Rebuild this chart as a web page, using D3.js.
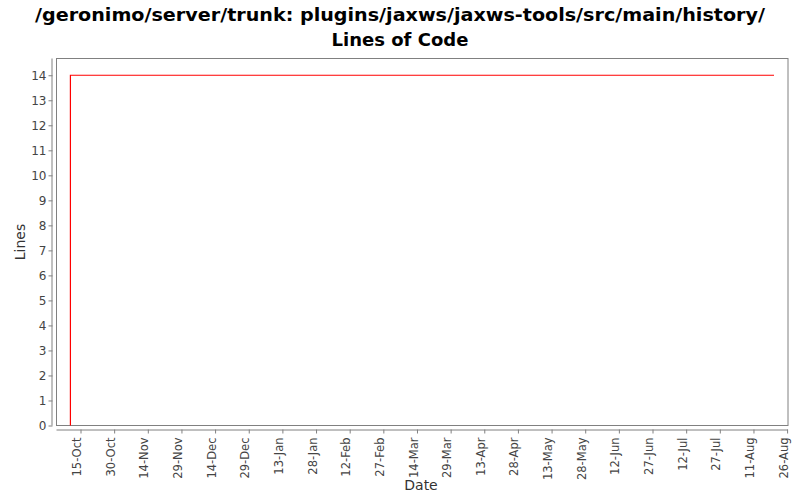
<!DOCTYPE html>
<html><head><meta charset="utf-8">
<script src="https://cdn.jsdelivr.net/npm/d3@7"></script>
<style>body{margin:0;background:#fff}svg{display:block}text{font-family:"DejaVu Sans",Tahoma,sans-serif}</style>
</head><body><svg id="c" width="800" height="500"></svg>
<script>
const titleLines = ["/geronimo/server/trunk: plugins/jaxws/jaxws-tools/src/main/history/", "Lines of Code"];
const dates = ["2006-10-10T12", "2006-10-10T12", "2007-08-20T04"];
const values = [0, 14, 14];
const tickDates = ["2006-10-15","2006-10-30","2006-11-14","2006-11-29","2006-12-14","2006-12-29","2007-01-13","2007-01-28","2007-02-12","2007-02-27","2007-03-14","2007-03-29","2007-04-13","2007-04-28","2007-05-13","2007-05-28","2007-06-12","2007-06-27","2007-07-12","2007-07-27","2007-08-11","2007-08-26"];
const yTicks = [0,1,2,3,4,5,6,7,8,9,10,11,12,13,14];

const parse = s => d3.isoParse(s.length > 10 ? s + ":00:00Z" : s + "T00:00:00Z");
const svg = d3.select("#c");
const L = 56.5, R = 788, T = 58.5, B = 425.5;

const t0 = parse("2006-10-15").getTime();
const x = d3.scaleUtc().domain([t0 - 10.7*864e5, t0 + 315.4*864e5]).range([L, R]);
const y = d3.scaleLinear().domain([0, 14.67]).range([B, T]);

svg.append("g").selectAll("text").data(titleLines).join("text")
  .attr("x", 400).attr("y", (d,i)=>i?46:21).attr("text-anchor","middle")
  .attr("font-weight","bold").attr("font-size", 18).attr("fill","#000")
  .attr("textLength", (d,i)=> i? null : 730).attr("lengthAdjust","spacingAndGlyphs")
  .text(d=>d);

svg.append("rect").attr("x", L).attr("y", T).attr("width", R-L).attr("height", B-T)
  .attr("fill","#fff").attr("stroke","#808080").attr("stroke-width",1);

const fmt = d3.utcFormat("%-d-%b");
const xAxis = svg.append("g").attr("transform", `translate(0,${B+4})`)
  .call(d3.axisBottom(x).tickValues(tickDates.map(parse)).tickFormat(fmt).tickSizeOuter(0).tickSize(4));
xAxis.select(".domain").attr("stroke","#808080");
xAxis.selectAll(".tick line").attr("stroke","#808080");
xAxis.selectAll(".tick text").attr("transform","rotate(-90)").attr("text-anchor","end")
  .attr("x",-8).attr("y",-4).attr("dy","0.35em").attr("font-size",11.5).attr("fill","#444")
  .attr("font-family","DejaVu Sans, sans-serif");
xAxis.select(".domain").attr("d", `M${L},0.5H${R}`);

const yAxis = svg.append("g").attr("transform", `translate(${L-4},0)`)
  .call(d3.axisLeft(y).tickValues(yTicks).tickFormat(d3.format("d")).tickSizeOuter(0).tickSize(4));
yAxis.select(".domain").attr("stroke","#808080").attr("d", `M-0.5,${T}V${B}`);
yAxis.selectAll(".tick line").attr("stroke","#808080");
yAxis.selectAll(".tick text").attr("font-size",12).attr("fill","#444").attr("x",-6)
  .attr("font-family","DejaVu Sans, sans-serif");

const data = dates.map((d,i)=>({d:parse(d), v:values[i]}));
svg.append("path").datum(data).attr("fill","none").attr("stroke","#ff0000").attr("stroke-width",1.2)
  .attr("d", d3.line().x(d=>x(d.d)).y(d=>y(d.v)));

svg.append("text").attr("transform","translate(25,242) rotate(-90)").attr("text-anchor","middle")
  .attr("font-size",14).attr("fill","#333").text("Lines");
svg.append("text").attr("x",421).attr("y",490).attr("text-anchor","middle")
  .attr("font-size",14).attr("fill","#333").text("Date");
</script></body></html>
